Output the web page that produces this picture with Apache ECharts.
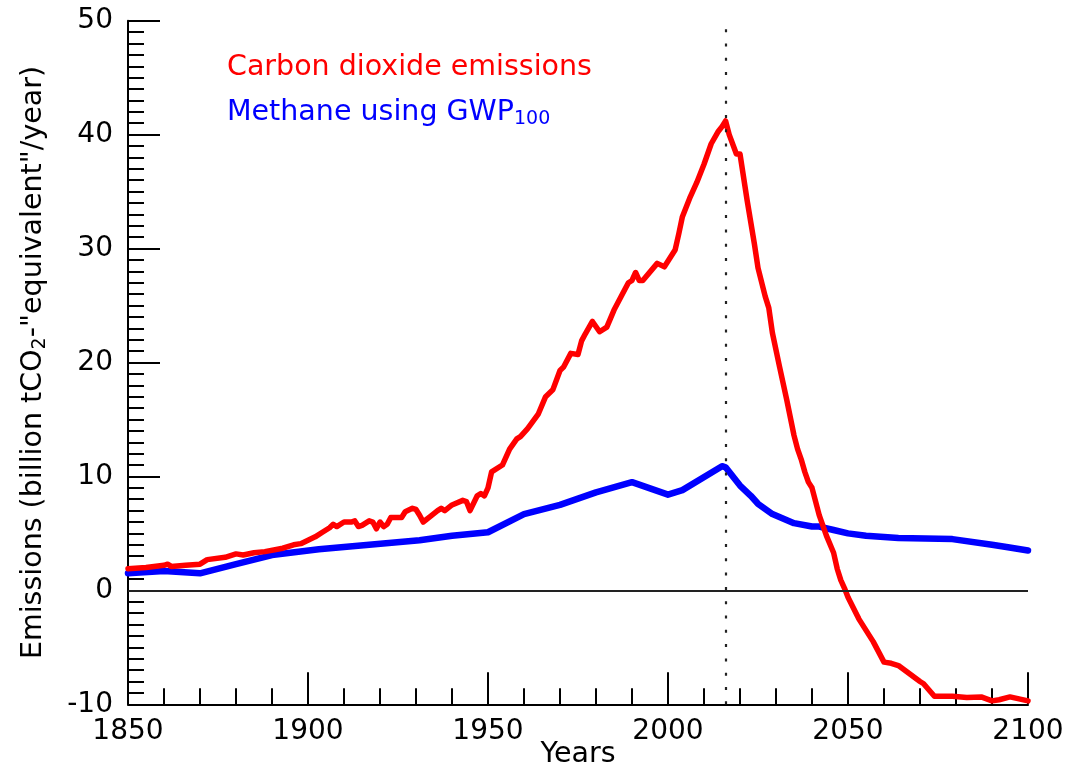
<!DOCTYPE html>
<html>
<head>
<meta charset="utf-8">
<script src="https://cdn.jsdelivr.net/npm/echarts@6/dist/echarts.min.js"></script>
<style>
html,body{margin:0;padding:0;background:#fff;}
#chart{width:1068px;height:769px;}
</style>
</head>
<body>
<div id="chart"></div>
<script>
const co2Years = [1850,1855,1860,1861,1862,1866,1870,1872,1877,1880,1882,1885,1888,1893,1896,1898,1900,1902,1904,1906,1907,1908,1910,1912,1913,1914,1915,1917,1918,1919,1920,1921,1922,1923,1926,1927,1929,1930,1931,1932,1934,1936,1937,1938,1940,1943,1944,1945,1947,1948,1949,1950,1951,1954,1956,1958,1959,1961,1964,1966,1968,1970,1971,1973,1975,1976,1977,1979,1981,1983,1985,1988,1989,1990,1991,1992,1993,1997,1999,2002,2003,2004,2006,2008,2010,2012,2014,2015,2016,2017,2019,2020,2022,2024,2025,2027,2028,2029,2031,2033,2035,2036,2037,2038,2039,2040,2042,2044,2046,2047,2048,2049,2050,2053,2057,2060,2062,2064,2067,2070,2071,2074,2079,2083,2087,2090,2092,2095,2100];
const co2Values = [1.9,2.0,2.2,2.3,2.1,2.2,2.3,2.7,2.9,3.2,3.1,3.3,3.4,3.7,4.0,4.1,4.4,4.7,5.1,5.5,5.8,5.6,6.0,6.0,6.1,5.6,5.7,6.1,6.0,5.4,6.0,5.6,5.8,6.4,6.4,6.9,7.2,7.1,6.6,6.0,6.5,7.0,7.2,7.0,7.5,7.9,7.8,7.0,8.3,8.5,8.3,9.0,10.4,11.0,12.4,13.3,13.5,14.2,15.5,17.0,17.6,19.3,19.6,20.8,20.7,21.9,22.5,23.6,22.7,23.1,24.6,26.4,27.0,27.2,27.9,27.2,27.2,28.7,28.4,29.9,31.3,32.8,34.4,35.8,37.4,39.2,40.3,40.7,41.2,40.0,38.3,38.3,34.2,30.4,28.3,25.8,24.8,22.6,19.6,16.7,13.6,12.4,11.5,10.4,9.5,9.0,6.6,4.8,3.3,1.9,0.9,0.2,-0.6,-2.5,-4.5,-6.3,-6.4,-6.6,-7.3,-8.0,-8.2,-9.3,-9.3,-9.4,-9.35,-9.7,-9.6,-9.35,-9.7];
const ch4Years = [1850,1860,1870,1880,1890,1903,1917,1931,1940,1950,1960,1970,1980,1990,2000,2004,2015,2016,2020,2023,2025,2029,2035,2040,2042,2046,2050,2055,2064,2079,2090,2094,2100];
const ch4Values = [1.5,1.7,1.5,2.3,3.1,3.6,4.0,4.4,4.8,5.1,6.7,7.5,8.6,9.5,8.4,8.8,10.9,10.8,9.2,8.3,7.6,6.7,5.9,5.6,5.6,5.3,5.0,4.8,4.6,4.5,4.0,3.8,3.5];
const co2Name = 'Carbon dioxide emissions';
const ch4Name = 'Methane using GWP100';
const markYear = 2016;

const FONT = 'DejaVu Sans';
const chart = echarts.init(document.getElementById('chart'), null, {renderer: 'canvas'});
const option = {
  animation: false,
  backgroundColor: '#ffffff',
  textStyle: {fontFamily: FONT},
  grid: {left: 128, right: 40, top: 20.7, bottom: 64.7, containLabel: false, outerBoundsMode: 'none'},
  legend: {
    orient: 'vertical',
    left: 222,
    top: 50.7,
    padding: 0,
    itemGap: 12,
    itemWidth: 0,
    itemHeight: 14,
    icon: 'none',
    selectedMode: false,
    textStyle: {
      fontFamily: FONT, fontSize: 28.5, lineHeight: 33,
      rich: {
        m: {fontFamily: FONT, fontSize: 28.5, lineHeight: 33, color: '#0000ff'},
        s: {fontFamily: FONT, fontSize: 19, lineHeight: 10, verticalAlign: 'bottom', color: '#0000ff'}
      }
    },
    formatter: function (name) {
      if (name === ch4Name) return '{m|Methane using GWP}{s|100}';
      return name;
    },
    data: [
      {name: co2Name, icon: 'none', textStyle: {color: '#ff0000'}},
      {name: ch4Name, icon: 'none', textStyle: {color: '#0000ff'}}
    ]
  },
  xAxis: {
    type: 'value',
    min: 1850, max: 2100, interval: 50,
    name: 'Years',
    nameLocation: 'middle',
    nameGap: 36,
    nameMoveOverlap: false,
    nameTextStyle: {fontFamily: FONT, fontSize: 28.5, color: '#000', verticalAlign: 'top'},
    axisLine: {show: true, onZero: false, lineStyle: {color: '#000', width: 2}},
    axisTick: {show: true, inside: true, length: 32, lineStyle: {color: '#000', width: 2}},
    minorTick: {show: true, splitNumber: 5, length: 16, lineStyle: {color: '#000', width: 2}},
    axisLabel: {show: true, margin: 13, fontFamily: FONT, fontSize: 28, color: '#000', showMinLabel: true, showMaxLabel: true,
      formatter: function (v) { return String(v); }},
    splitLine: {show: false},
    minorSplitLine: {show: false}
  },
  yAxis: {
    type: 'value',
    min: -10, max: 50, interval: 10,
    name: '{a|Emissions (billion tCO}{s|2}{a|-"equivalent"/year)}',
    nameLocation: 'middle',
    nameGap: 78,
    nameMoveOverlap: false,
    nameTextStyle: {
      fontFamily: FONT, fontSize: 28.5, color: '#000',
      rich: {
        a: {fontFamily: FONT, fontSize: 28.5, lineHeight: 33, color: '#000'},
        s: {fontFamily: FONT, fontSize: 19, lineHeight: 10, verticalAlign: 'bottom', color: '#000'}
      }
    },
    axisLine: {show: true, onZero: false, lineStyle: {color: '#000', width: 2}},
    axisTick: {show: true, inside: true, length: 32, lineStyle: {color: '#000', width: 2}},
    minorTick: {show: true, splitNumber: 10, length: 16, lineStyle: {color: '#000', width: 2}},
    axisLabel: {show: true, margin: 15, fontFamily: FONT, fontSize: 28, color: '#000', showMinLabel: true, showMaxLabel: true,
      formatter: function (v) { return String(v); }},
    splitLine: {show: false},
    minorSplitLine: {show: false}
  },
  series: [
    {
      name: 'refLines',
      type: 'line',
      data: [],
      silent: true,
      z: 1,
      markLine: {
        silent: true,
        symbol: ['none', 'none'],
        label: {show: false},
        animation: false,
        data: [
          {yAxis: 0, lineStyle: {color: '#222', width: 2, type: 'solid'}},
          {xAxis: markYear, lineStyle: {color: '#222', width: 2.2, type: [3, 11.3]}}
        ]
      }
    },
    {
      name: ch4Name,
      type: 'line',
      showSymbol: false,
      symbol: 'none',
      z: 3,
      lineStyle: {color: '#0000ff', width: 6.5, join: 'round', cap: 'round'},
      itemStyle: {color: '#0000ff'},
      data: ch4Years.map((y, i) => [y, ch4Values[i]])
    },
    {
      name: co2Name,
      type: 'line',
      showSymbol: false,
      symbol: 'none',
      z: 4,
      lineStyle: {color: '#ff0000', width: 5.5, join: 'round', cap: 'round'},
      itemStyle: {color: '#ff0000'},
      data: co2Years.map((y, i) => [y, co2Values[i]])
    }
  ]
};
chart.setOption(option);
</script>
</body>
</html>
